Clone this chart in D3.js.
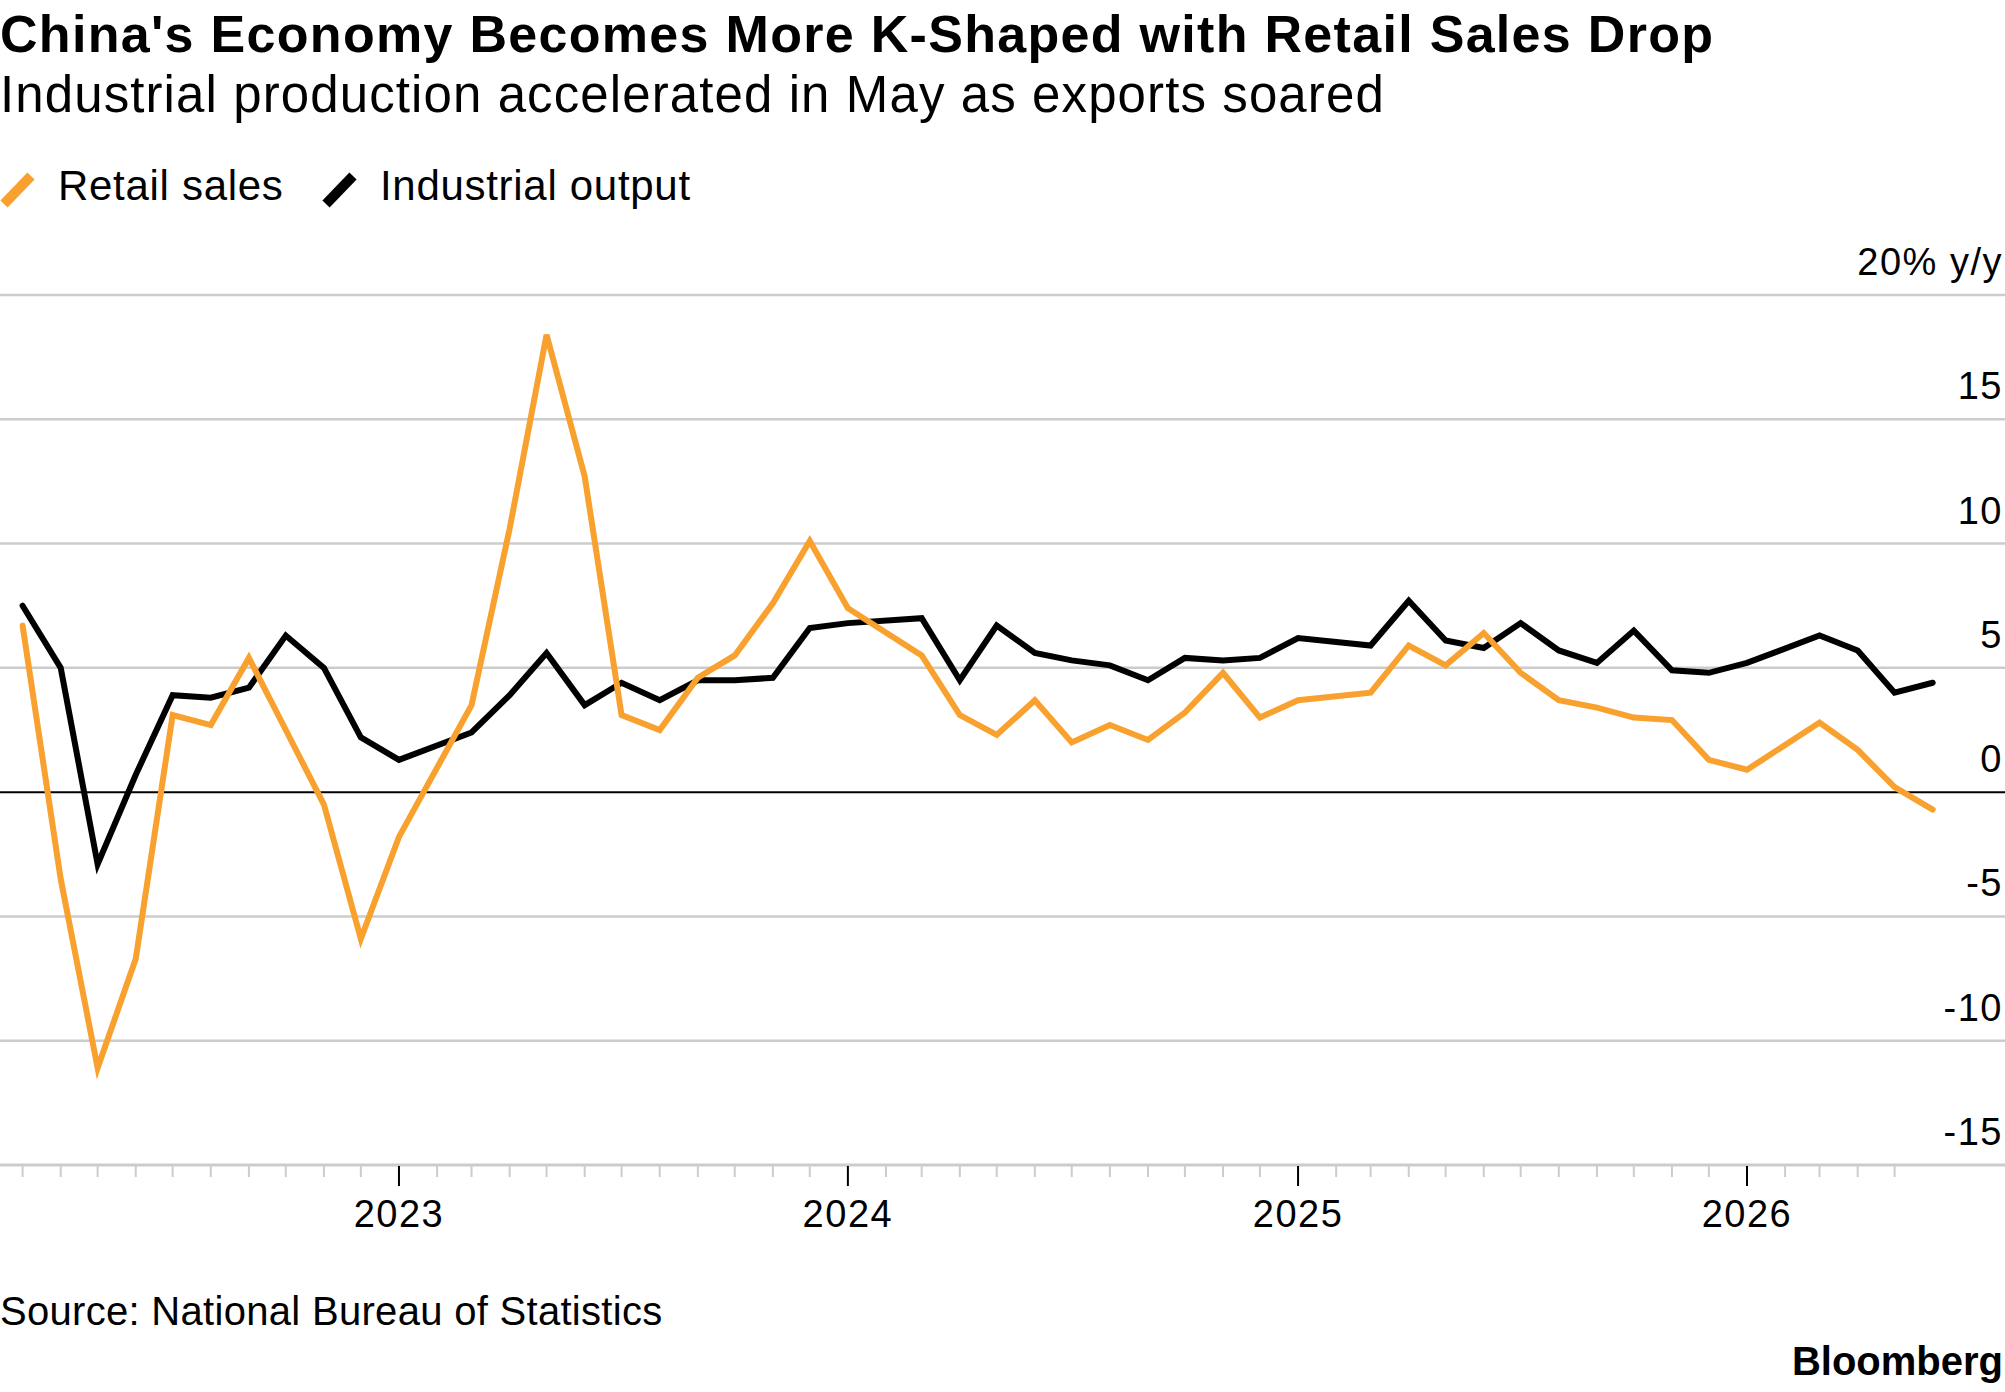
<!DOCTYPE html>
<html>
<head>
<meta charset="utf-8">
<script src="https://cdn.jsdelivr.net/npm/d3@7"></script>
<style>
  body { margin: 0; background: #fff; }
  svg { display: block; font-family: "Liberation Sans", Arial, sans-serif; }
</style>
</head>
<body>
<svg id="chart" width="2005" height="1392"></svg>
<script>
// month of the release (Jan-Feb is reported together, tagged Feb)
const months = [
  '2022-02', '2022-03', '2022-04', '2022-05', '2022-06', '2022-07', '2022-08', '2022-09', '2022-10', '2022-11', '2022-12',
  '2023-02', '2023-03', '2023-04', '2023-05', '2023-06', '2023-07', '2023-08', '2023-09', '2023-10', '2023-11', '2023-12',
  '2024-02', '2024-03', '2024-04', '2024-05', '2024-06', '2024-07', '2024-08', '2024-09', '2024-10', '2024-11', '2024-12',
  '2025-02', '2025-03', '2025-04', '2025-05', '2025-06', '2025-07', '2025-08', '2025-09', '2025-10', '2025-11', '2025-12',
  '2026-02', '2026-03', '2026-04', '2026-05'
];

const retailSales = [
  6.7, -3.5, -11.1, -6.7, 3.1, 2.7, 5.4, 2.5, -0.5, -5.9, -1.8,
  3.5, 10.6, 18.4, 12.7, 3.1, 2.5, 4.6, 5.5, 7.6, 10.1, 7.4,
  5.5, 3.1, 2.3, 3.7, 2.0, 2.7, 2.1, 3.2, 4.8, 3.0, 3.7,
  4.0, 5.9, 5.1, 6.4, 4.8, 3.7, 3.4, 3.0, 2.9, 1.3, 0.9,
  2.8, 1.7, 0.2, -0.7
];

const industrialOutput = [
  7.5, 5.0, -2.9, 0.7, 3.9, 3.8, 4.2, 6.3, 5.0, 2.2, 1.3,
  2.4, 3.9, 5.6, 3.5, 4.4, 3.7, 4.5, 4.5, 4.6, 6.6, 6.8,
  7.0, 4.5, 6.7, 5.6, 5.3, 5.1, 4.5, 5.4, 5.3, 5.4, 6.2,
  5.9, 7.7, 6.1, 5.8, 6.8, 5.7, 5.2, 6.5, 4.9, 4.8, 5.2,
  6.3, 5.7, 4.0, 4.4
];

const yTicks = [-15, -10, -5, 0, 5, 10, 15, 20];
const yearTicks = ['2023', '2024', '2025', '2026'];

const series = [
  { name: 'Industrial output', color: '#000000', values: industrialOutput },
  { name: 'Retail sales', color: '#f9a12e', values: retailSales }
];

const W = 2005;
const svg = d3.select('#chart');
const parseMonth = d3.timeParse('%Y-%m');
// each reading sits at the end of its month
const dates = months.map(m => d3.timeMonth.offset(parseMonth(m), 1));

const x = d3.scaleTime()
  .domain(d3.extent(dates))
  .range([22.6, 1932.7]);

const y = d3.scaleLinear()
  .domain([-15, 20])
  .range([1165, 295]);

svg.append('rect').attr('width', W).attr('height', 1392).attr('fill', '#fff');

// titles
svg.append('text')
  .attr('x', 0).attr('y', 52)
  .style('font-size', '52px').style('font-weight', 'bold')
  .style('letter-spacing', '1.3px')
  .text("China's Economy Becomes More K-Shaped with Retail Sales Drop");

svg.append('text')
  .attr('x', 0).attr('y', 112)
  .style('font-size', '51px').style('letter-spacing', '1.1px')
  .text('Industrial production accelerated in May as exports soared');

// legend
const legendItems = [
  { name: 'Retail sales', color: '#f9a12e', x: 0 },
  { name: 'Industrial output', color: '#000000', x: 322 }
];
const legend = svg.selectAll('g.legend').data(legendItems).enter()
  .append('g').attr('class', 'legend')
  .attr('transform', d => `translate(${d.x},0)`);
legend.append('line')
  .attr('x1', 4).attr('y1', 204).attr('x2', 31).attr('y2', 176)
  .attr('stroke', d => d.color).attr('stroke-width', 10);
legend.append('text')
  .attr('x', 58).attr('y', 200)
  .style('font-size', '42px').style('letter-spacing', '0.7px')
  .text(d => d.name);

// gridlines
svg.append('g').selectAll('line').data(yTicks.filter(v => v > -15)).enter()
  .append('line')
  .attr('x1', 0).attr('x2', W)
  .attr('y1', d => y(d)).attr('y2', d => y(d))
  .attr('stroke', d => d === 0 ? '#000' : '#cccccc')
  .attr('stroke-width', d => d === 0 ? 2 : 2.5);

// y labels, sitting above their gridlines
svg.append('g').selectAll('text').data(yTicks).enter()
  .append('text')
  .attr('x', 2003).attr('y', d => y(d) - 20)
  .attr('text-anchor', 'end')
  .style('font-size', '38px').style('letter-spacing', '1.5px')
  .text(d => d === 20 ? '20% y/y' : d);

// x axis
const axisG = svg.append('g').attr('transform', `translate(0,${y(-15)})`);
axisG.append('line')
  .attr('x1', 0).attr('x2', W)
  .attr('stroke', '#cccccc').attr('stroke-width', 3);

const monthTicks = d3.timeMonth.range(dates[0], dates[dates.length - 1]);
axisG.selectAll('line.tick').data(monthTicks).enter()
  .append('line').attr('class', 'tick')
  .attr('x1', d => x(d)).attr('x2', d => x(d))
  .attr('y1', 1)
  .attr('y2', d => d.getMonth() === 0 ? 21 : 12)
  .attr('stroke', d => d.getMonth() === 0 ? '#000' : '#cccccc')
  .attr('stroke-width', 2);

axisG.selectAll('text').data(yearTicks).enter()
  .append('text')
  .attr('x', d => x(new Date(+d, 0, 1)))
  .attr('y', 62)
  .attr('text-anchor', 'middle')
  .style('font-size', '38px').style('letter-spacing', '1.5px')
  .text(d => d);

// lines
const line = d3.line()
  .x((d, i) => x(dates[i]))
  .y(d => y(d));

svg.append('g').selectAll('path').data(series).enter()
  .append('path')
  .attr('d', d => line(d.values))
  .attr('fill', 'none')
  .attr('stroke', d => d.color)
  .attr('stroke-width', 6)
  .attr('stroke-linejoin', 'miter')
  .attr('stroke-linecap', 'round');

// footer
svg.append('text')
  .attr('x', 0).attr('y', 1325)
  .style('font-size', '40px').style('letter-spacing', '0.3px')
  .text('Source: National Bureau of Statistics');

svg.append('text')
  .attr('x', 2003).attr('y', 1375)
  .attr('text-anchor', 'end')
  .style('font-size', '40px').style('font-weight', 'bold')
  .text('Bloomberg');
</script>
</body>
</html>
